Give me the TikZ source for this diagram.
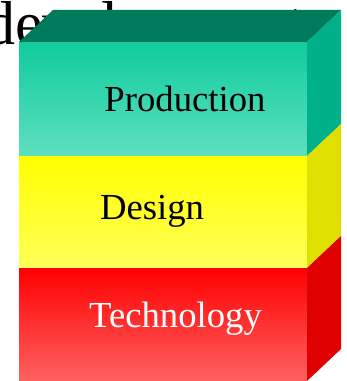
\documentclass[tikz,border=0pt]{standalone}
\usepackage{fontspec}
\setmainfont{Liberation Serif}
\usetikzlibrary{positioning}
\definecolor{prodhi}{HTML}{10CC9C}
\definecolor{prodlo}{HTML}{5EDFC0}
\definecolor{prodside}{HTML}{00B088}
\definecolor{blocktop}{HTML}{007A5C}
\definecolor{designhi}{HTML}{FFFF00}
\definecolor{designlo}{HTML}{FFFF58}
\definecolor{designside}{HTML}{E0E000}
\definecolor{techhi}{HTML}{FF0000}
\definecolor{techlo}{HTML}{FF6262}
\definecolor{techside}{HTML}{E00000}
\tikzset{
  x=1pt, y=1pt, % one unit is one pixel of the reference
  layer/.style={rectangle, minimum width=288pt, inner sep=0pt, outer sep=0pt}, % a slab of the block
  caption/.style={font=\fontsize{36.7}{40}\selectfont, anchor=base, inner sep=0pt}, % the slab's name
}

\begin{document}
\begin{tikzpicture}
    \useasboundingbox (0,0) rectangle (347,381);
    \clip (0,0) rectangle (347,381);
    \node[font=\fontsize{62}{70}\selectfont, anchor=base west, inner sep=0pt] (title) at (-16,336) {development};

    \node[layer, minimum height=113pt, top color=techhi, bottom color=techlo] (tech) at (163,56.5) {};
    \node[layer, minimum height=112pt, top color=designhi, bottom color=designlo, above=0pt of tech] (design) {};
    \node[layer, minimum height=114pt, top color=prodhi, bottom color=prodlo, above=0pt of design] (prod) {};

    \fill[blocktop] (prod.north west) -- ++(34,32) -- ++(288,0) -- (prod.north east) -- cycle;
    \fill[prodside] (prod.north east) -- ++(34,32) -- ++(0,-114) -- (prod.south east) -- cycle;
    \fill[designside] (design.north east) -- ++(34,32) -- ++(0,-112) -- (design.south east) -- cycle;
    \fill[techside] (tech.north east) -- ++(34,32) -- ++(0,-113) -- (tech.south east) -- cycle;

    \node[caption] (prodtext) at (185,269) {Production};
    \node[caption] (designtext) at (152,161) {Design};
    \node[caption, text=white] (techtext) at (175.5,53) {Technology};
\end{tikzpicture}
\end{document}
